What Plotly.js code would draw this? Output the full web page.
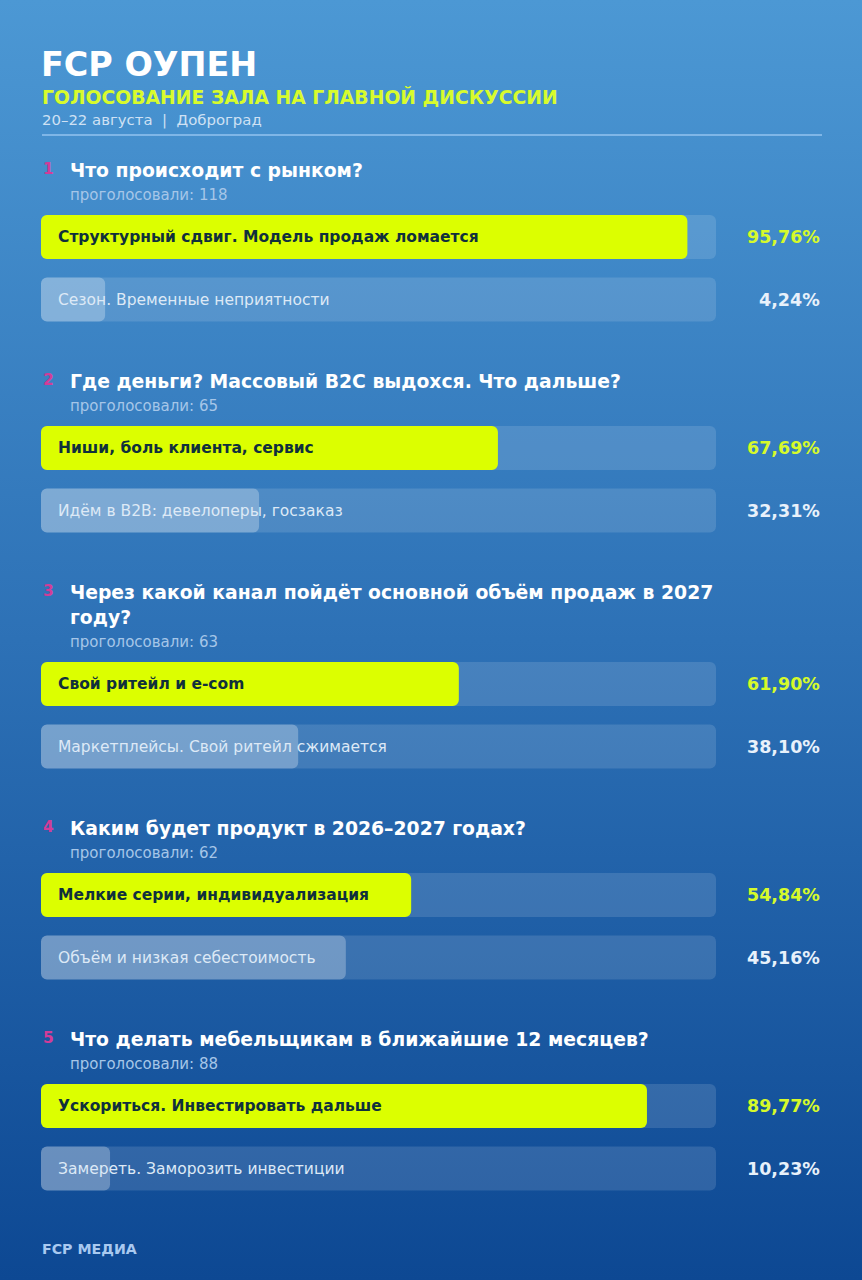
<!DOCTYPE html>
<html>
<head>
<meta charset="utf-8">
<script src="https://cdn.plot.ly/plotly-3.0.1.min.js"></script>
<style>
html,body{margin:0;padding:0;}
body{width:862px;height:1280px;background:linear-gradient(180deg,#4c98d4 0%,#2d71b6 50%,#0d4893 100%);overflow:hidden;}
#chart{width:862px;height:1280px;}
</style>
</head>
<body>
<div id="chart"></div>
<script>
// ---- Data ----
const titleText = "FCP ОУПЕН";
const subtitleText = "ГОЛОСОВАНИЕ ЗАЛА НА ГЛАВНОЙ ДИСКУССИИ";
const dateText = "20–22 августа  |  Доброград";
const footerText = "FCP МЕДИА";
const questions = [
  "Что происходит с рынком?",
  "Где деньги? Массовый B2C выдохся. Что дальше?",
  "Через какой канал пойдёт основной объём продаж в 2027 году?",
  "Каким будет продукт в 2026–2027 годах?",
  "Что делать мебельщикам в ближайшие 12 месяцев?"
];
const votes = [118, 65, 63, 62, 88];
const optionA = [
  "Структурный сдвиг. Модель продаж ломается",
  "Ниши, боль клиента, сервис",
  "Свой ритейл и e-com",
  "Мелкие серии, индивидуализация",
  "Ускориться. Инвестировать дальше"
];
const optionB = [
  "Сезон. Временные неприятности",
  "Идём в B2B: девелоперы, госзаказ",
  "Маркетплейсы. Свой ритейл сжимается",
  "Объём и низкая себестоимость",
  "Замереть. Заморозить инвестиции"
];
const pctA = [95.76, 67.69, 61.90, 54.84, 89.77];
const pctB = [4.24, 32.31, 38.10, 45.16, 10.23];

// ---- Layout constants ----
const W = 862, H = 1280;
const plotL = 41, plotR = 716;
const FONT = "DejaVu Sans, Verdana, sans-serif";
const minBar = 9.5; // minimum visible bar length (% of track)
const px = v => (v - plotL) / (plotR - plotL);

function wrap(text, maxChars) {
  const words = text.split(" ");
  const lines = [];
  let cur = "";
  words.forEach(w => {
    const t = cur ? cur + " " + w : w;
    if (t.length > maxChars && cur) { lines.push(cur); cur = w; }
    else cur = t;
  });
  if (cur) lines.push(cur);
  return lines;
}
const fmt = v => v.toFixed(2).replace(".", ",") + "%";

const yA = [], yB = [], annotations = [];
let y0 = 237;
questions.forEach((q, i) => {
  const lines = wrap(q, 55);
  if (i > 0) y0 += 211;
  y0 += (lines.length - 1) * 25;
  const a = y0, b = y0 + 62.5;
  yA.push(a); yB.push(b);
  const titleTop = a - 67 - (lines.length - 1) * 25;
  annotations.push({xref: "paper", yref: "y", x: px(40.5), y: titleTop - 1, text: "<b>" + (i + 1) + "</b>",
    showarrow: false, xanchor: "left", yanchor: "middle", font: {family: FONT, size: 15.5, color: "#d23c98"}});
  lines.forEach((ln, k) => {
    annotations.push({xref: "paper", yref: "y", x: px(68), y: titleTop + k * 25, text: "<b>" + ln + "</b>",
      showarrow: false, xanchor: "left", yanchor: "middle", font: {family: FONT, size: 18.8, color: "#ffffff"}});
  });
  annotations.push({xref: "paper", yref: "y", x: px(68), y: a - 42, text: "проголосовали: " + votes[i],
    showarrow: false, xanchor: "left", yanchor: "middle", font: {family: FONT, size: 15, color: "#a6c6e8"}});
  annotations.push({xref: "paper", yref: "y", x: px(56), y: a, text: "<b>" + optionA[i] + "</b>",
    showarrow: false, xanchor: "left", yanchor: "middle", font: {family: FONT, size: 15.5, color: "#10303c"}});
  annotations.push({xref: "paper", yref: "y", x: px(56), y: b, text: optionB[i],
    showarrow: false, xanchor: "left", yanchor: "middle", font: {family: FONT, size: 15.5, color: "#dde9f6"}});
  annotations.push({xref: "paper", yref: "y", x: px(822), y: a, text: "<b>" + fmt(pctA[i]) + "</b>",
    showarrow: false, xanchor: "right", yanchor: "middle", font: {family: FONT, size: 17.5, color: "#d6fa2a"}});
  annotations.push({xref: "paper", yref: "y", x: px(822), y: b, text: "<b>" + fmt(pctB[i]) + "</b>",
    showarrow: false, xanchor: "right", yanchor: "middle", font: {family: FONT, size: 17.5, color: "#e8f1fb"}});
});

// header / footer
annotations.push({xref: "paper", yref: "y", x: px(39), y: 64, text: "<b>" + titleText + "</b>", showarrow: false,
  xanchor: "left", yanchor: "middle", font: {family: FONT, size: 33.4, color: "#ffffff"}});
annotations.push({xref: "paper", yref: "y", x: px(40), y: 97, text: "<b>" + subtitleText + "</b>", showarrow: false,
  xanchor: "left", yanchor: "middle", font: {family: FONT, size: 18.8, color: "#d8fb2c"}});
annotations.push({xref: "paper", yref: "y", x: px(40), y: 120, text: dateText, showarrow: false,
  xanchor: "left", yanchor: "middle", font: {family: FONT, size: 14.9, color: "#cfe1f4"}});
annotations.push({xref: "paper", yref: "y", x: px(40), y: 1249, text: "<b>" + footerText + "</b>", showarrow: false,
  xanchor: "left", yanchor: "middle", font: {family: FONT, size: 14.2, color: "#a9c9f0"}});

// explicit base -> Plotly rounds all four corners
function roundedBar(ys, vals, color) {
  return {type: "bar", orientation: "h", y: ys, x: vals, base: vals.map(() => 0), width: 44,
    hoverinfo: "skip", marker: {color: color, cornerradius: 6, line: {width: 0}}};
}
const allY = yA.concat(yB);
const traces = [
  roundedBar(allY, allY.map(() => 100), "rgba(255,255,255,0.13)"),
  roundedBar(yB, pctB.map(v => Math.max(v, minBar)), "rgba(255,255,255,0.27)"),
  roundedBar(yA, pctA.map(v => Math.max(v, minBar)), "#dcff00")
];

const layout = {
  width: W, height: H,
  margin: {l: plotL, r: W - plotR, t: 0, b: 0, pad: 0},
  paper_bgcolor: "rgba(0,0,0,0)", plot_bgcolor: "rgba(0,0,0,0)",
  barmode: "overlay", showlegend: false,
  xaxis: {range: [0, 100], visible: false, fixedrange: true},
  yaxis: {range: [H, 0], visible: false, fixedrange: true},
  shapes: [{type: "line", xref: "paper", yref: "y", x0: px(42), x1: px(822), y0: 135, y1: 135,
    line: {color: "rgba(160,205,245,0.85)", width: 1.5}}],
  annotations: annotations
};
Plotly.newPlot("chart", traces, layout, {displayModeBar: false, staticPlot: true});
</script>
</body>
</html>
